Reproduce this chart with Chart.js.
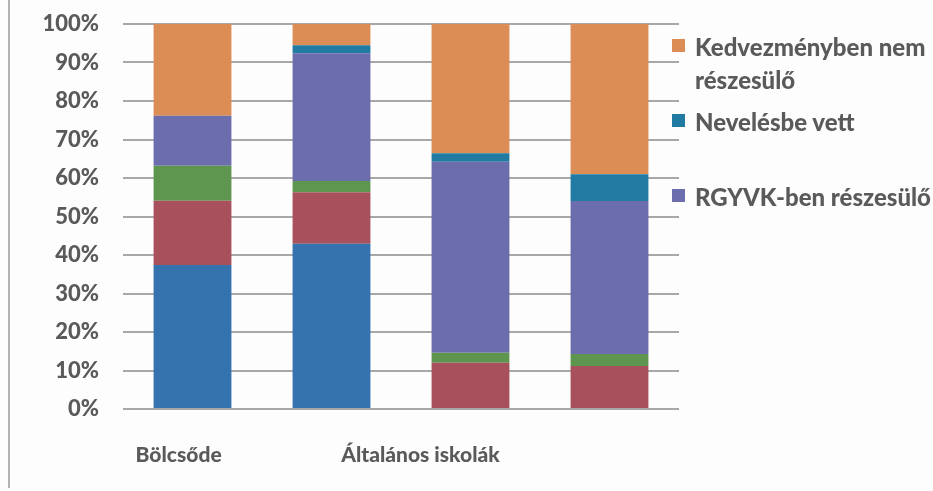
<!DOCTYPE html>
<html>
<head>
<meta charset="utf-8">
<script src="https://cdn.jsdelivr.net/npm/chart.js@4"></script>
<style>
  html, body { margin: 0; padding: 0; background: #ffffff; }
  #wrap { position: relative; width: 933px; height: 491px; overflow: hidden; background: #fdfdfd; }
  #frame { position: absolute; left: 8px; top: 0; width: 2px; height: 488px; background: #b4b4b4; }
  canvas { position: absolute; left: 0; top: 0; }
  .lg { position: absolute; left: 672px; width: 261px; font-family: Lato, sans-serif; font-weight: 900; font-size: 24px; line-height: 33px; color: #5a5a5a; }
  .lg .sw { position: absolute; left: 0; top: 9px; width: 13px; height: 13px; }
  .lg .tx { position: absolute; left: 23px; top: 0; width: 238px; }
</style>
</head>
<body>
<div id="wrap">
  <canvas id="c" width="933" height="491"></canvas>
  <div id="frame"></div>
  <div id="legend"></div>
</div>
<script>
// ---- data ----
const categories = ['Bölcsőde', '', 'Általános iskolák', ''];
const seriesNames = ['', '', '', 'RGYVK-ben részesülő', 'Nevelésbe vett', 'Kedvezményben nem részesülő'];
const seriesBlue   = [37.4, 42.9, 0, 0];
const seriesRed    = [16.7, 13.4, 12.0, 11.2];
const seriesGreen  = [9.1, 2.9, 2.6, 3.1];
const seriesRGYVK  = [13.0, 33.2, 49.6, 39.7];
const seriesNevelt = [0, 2.1, 2.2, 7.0];
const seriesNem    = [23.8, 5.5, 33.6, 39.0];
const yTicks = [0, 10, 20, 30, 40, 50, 60, 70, 80, 90, 100];

const colors = ['#3473ad', '#a8505c', '#5e9650', '#6b6dad', '#207aa2', '#dc8c55'];
const allSeries = [seriesBlue, seriesRed, seriesGreen, seriesRGYVK, seriesNevelt, seriesNem];

const datasets = allSeries.map((d, i) => ({
  label: seriesNames[i],
  data: d,
  backgroundColor: colors[i],
  borderWidth: 0,
  barPercentage: 0.56,
  categoryPercentage: 1.0
}));

const xLabelPlugin = {
  id: 'xLabels',
  afterDraw(chart) {
    const ctx = chart.ctx;
    const xs = chart.scales.x;
    const step = (xs.right - xs.left) / categories.length;
    // Excel-style offsets of the group captions
    const anchors = { 0: -0.1, 2: 1.64 };
    ctx.save();
    ctx.font = '900 21px Lato';
    ctx.fillStyle = '#5a5a5a';
    ctx.textAlign = 'center';
    ctx.textBaseline = 'alphabetic';
    categories.forEach((c, i) => {
      if (!c) return;
      const pos = anchors[i] !== undefined ? anchors[i] : i;
      ctx.fillText(c, xs.left + step * (pos + 0.5), 462);
    });
    ctx.restore();
  }
};

new Chart(document.getElementById('c'), {
  type: 'bar',
  data: { labels: categories, datasets },
  options: {
    responsive: false,
    animation: false,
    devicePixelRatio: 1,
    layout: { padding: { left: 0, right: 254, top: 24, bottom: 0 } },
    plugins: { legend: { display: false }, tooltip: { enabled: false } },
    scales: {
      x: {
        stacked: true,
        grid: { display: false },
        border: { display: false },
        ticks: { display: false },
        afterFit: s => { s.height = 82; }
      },
      y: {
        stacked: true,
        min: 0, max: 100,
        afterBuildTicks: s => { s.ticks = yTicks.map(v => ({ value: v })); },
        ticks: {
          callback: v => v + '%',
          color: '#5a5a5a',
          font: { family: 'Lato', weight: '900', size: 22 },
          padding: 24
        },
        grid: { color: '#a8a8a8', lineWidth: 2, drawTicks: false },
        border: { display: false },
        afterFit: s => { s.width = 123; s.paddingTop = 0; s.paddingBottom = 0; }
      }
    }
  },
  plugins: [xLabelPlugin]
});

// HTML legend (top series first, as in the reference)
const legend = document.getElementById('legend');
const legendOrder = [5, 4, 3];
legendOrder.forEach((idx, k) => {
  const item = document.createElement('div');
  item.className = 'lg';
  item.style.top = (30 + k * 75) + 'px';
  const sw = document.createElement('div');
  sw.className = 'sw';
  sw.style.background = colors[idx];
  const tx = document.createElement('div');
  tx.className = 'tx';
  tx.textContent = seriesNames[idx];
  item.appendChild(sw);
  item.appendChild(tx);
  legend.appendChild(item);
});
</script>
</body>
</html>
